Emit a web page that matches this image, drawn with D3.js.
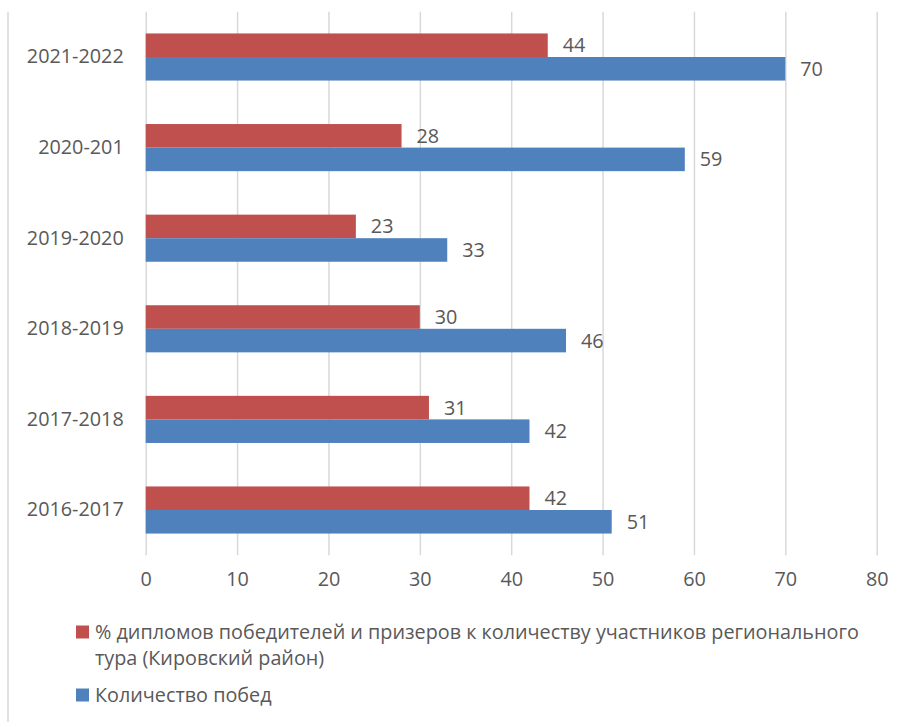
<!DOCTYPE html>
<html>
<head>
<meta charset="utf-8">
<script src="https://cdn.jsdelivr.net/npm/d3@7"></script>
<style>
  body { margin: 0; background: #fff; }
  svg { display: block; font-family: "Open Sans", sans-serif; }
</style>
</head>
<body>
<div id="chart"></div>
<script>
const years = ["2021-2022", "2020-201", "2019-2020", "2018-2019", "2017-2018", "2016-2017"];
const diplomas = [44, 28, 23, 30, 31, 42];
const wins = [70, 59, 33, 46, 42, 51];
const xTicks = [0, 10, 20, 30, 40, 50, 60, 70, 80];
const seriesNames = [
  ["% дипломов победителей и призеров к количеству участников регионального", "тура (Кировский район)"],
  ["Количество побед"]
];

const width = 910;
const height = 722;
const marginTop = 11.7;
const marginBottom = 166.7;
const marginLeft = 145.7;
const marginRight = 33.3;
const fontSize = 19.8;
const textColor = "#595959";
const colors = ["#C0504D", "#4F81BD"];

const svg = d3.select("#chart").append("svg")
  .attr("width", width)
  .attr("height", height)
  .attr("viewBox", [0, 0, width, height]);

const x = d3.scaleLinear().domain([0, 80]).range([marginLeft, width - marginRight]);

const y = d3.scaleBand()
  .domain(years)
  .range([marginTop, height - marginBottom])
  .paddingInner(0.48)
  .paddingOuter(0.24);

const sub = d3.scaleBand().domain([0, 1]).range([0, y.bandwidth()]);

// left border
svg.append("line")
  .attr("x1", 8).attr("x2", 8)
  .attr("y1", marginTop).attr("y2", height)
  .attr("stroke", "#D9D9D9").attr("stroke-width", 1.5);

// grid + x labels
const xAxisG = svg.append("g")
  .attr("transform", `translate(0,${height - marginBottom})`)
  .call(d3.axisBottom(x).tickValues(xTicks)
    .tickSize(-(height - marginBottom - marginTop))
    .tickPadding(17))
  .attr("font-family", null)
  .attr("font-size", fontSize);
xAxisG.select(".domain").remove();
xAxisG.selectAll(".tick line").attr("stroke", "#D9D9D9").attr("stroke-width", 1.5);
xAxisG.selectAll(".tick text").attr("fill", textColor);

// y labels
const yAxisG = svg.append("g")
  .attr("transform", `translate(${marginLeft},0)`)
  .call(d3.axisLeft(y).tickSize(0).tickPadding(22))
  .attr("font-family", null)
  .attr("font-size", fontSize);
yAxisG.select(".domain").remove();
yAxisG.selectAll(".tick text").attr("fill", textColor);

const series = [diplomas, wins];

series.forEach((values, s) => {
  const g = svg.append("g");
  g.selectAll("rect")
    .data(values)
    .join("rect")
    .attr("x", x(0))
    .attr("y", (d, i) => y(years[i]) + sub(s))
    .attr("width", d => x(d) - x(0))
    .attr("height", sub.bandwidth())
    .attr("fill", colors[s]);
  g.selectAll("text")
    .data(values)
    .join("text")
    .attr("x", d => x(d) + 15)
    .attr("y", (d, i) => y(years[i]) + sub(s) + sub.bandwidth() / 2)
    .attr("dy", "0.35em")
    .attr("font-size", fontSize)
    .attr("fill", textColor)
    .text(d => d);
});

// legend
const legendY = [632, 695];
seriesNames.forEach((lines, s) => {
  const g = svg.append("g");
  g.append("rect")
    .attr("x", 76).attr("y", legendY[s] - 6.5)
    .attr("width", 13).attr("height", 13)
    .attr("fill", colors[s]);
  lines.forEach((t, i) => {
    g.append("text")
      .attr("x", 95)
      .attr("y", legendY[s] + i * 26)
      .attr("dy", "0.35em")
      .attr("font-size", fontSize)
      .attr("fill", textColor)
      .text(t);
  });
});
</script>
</body>
</html>
